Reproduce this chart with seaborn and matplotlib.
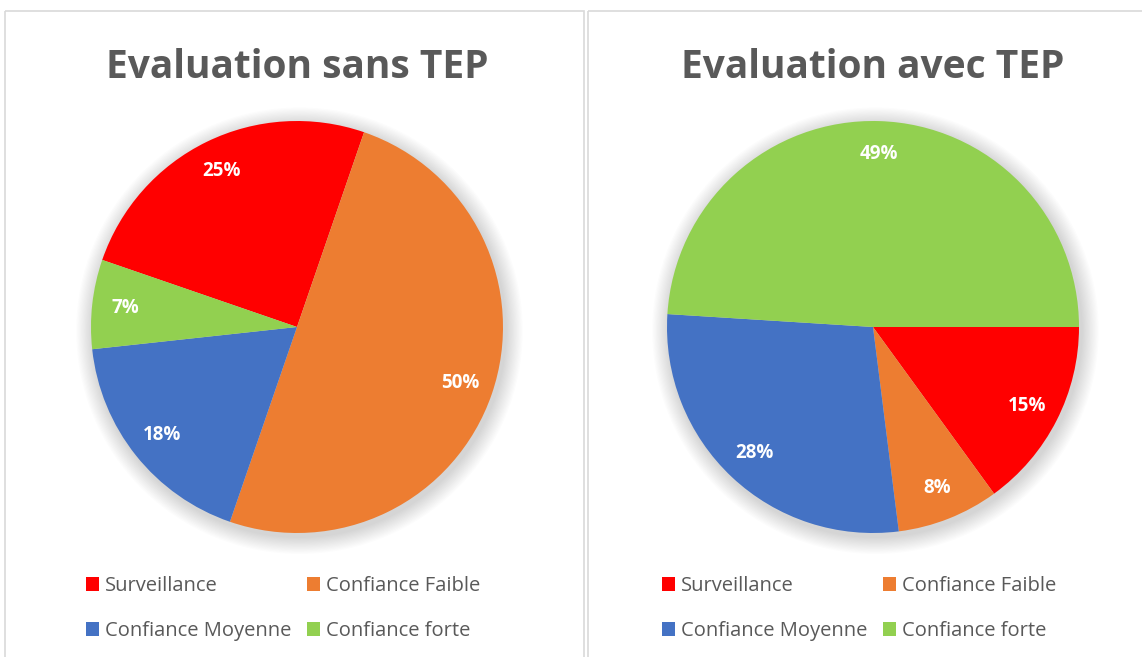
import matplotlib
matplotlib.use("Agg")
import matplotlib.pyplot as plt
from matplotlib.patches import Circle, Rectangle
import seaborn as sns

sns.set_theme(style="white")
plt.rcParams["font.family"] = ["Open Sans", "DejaVu Sans"]

categories = ["Surveillance", "Confiance Faible", "Confiance Moyenne", "Confiance forte"]
sans_tep = [25, 50, 18, 7]
avec_tep = [15, 8, 28, 49]
titles = ["Evaluation sans TEP", "Evaluation avec TEP"]
colors = ["#FF0000", "#ED7D31", "#4472C4", "#92D050"]

W, H = 1142, 657
fig = plt.figure(figsize=(W / 100, H / 100), dpi=100)
fig.patch.set_facecolor("white")

# panel frames (pixel coords)
frame_ax = fig.add_axes([0, 0, 1, 1])
frame_ax.set_xlim(0, W)
frame_ax.set_ylim(H, 0)
frame_ax.axis("off")
for x0, x1 in [(5, 584), (588, 1150)]:
    frame_ax.add_patch(Rectangle((x0, 11), x1 - x0, 700, fill=False,
                                 edgecolor="#d9d9d9", linewidth=1.2))

panels = [
    {"values": sans_tep, "cx": 297, "start": 161},
    {"values": avec_tep, "cx": 873, "start": 0},
]
radius_px = 206
cy = 327

for i, panel in enumerate(panels):
    cx = panel["cx"]
    ax = fig.add_axes([(cx - radius_px) / W, (H - cy - radius_px) / H,
                       2 * radius_px / W, 2 * radius_px / H])
    # soft shadow around the pie
    for k in range(14):
        r = 1.0 + 0.006 * (k + 1)
        ax.add_patch(Circle((0.012, -0.018), r, color="black",
                            alpha=0.012, linewidth=0, clip_on=False, zorder=0))
    wedges, _, autotexts = ax.pie(
        panel["values"], colors=colors, startangle=panel["start"],
        counterclock=False, autopct="%1.0f%%", pctdistance=0.84,
        radius=1.0, wedgeprops={"linewidth": 0},
        textprops={"color": "white", "fontsize": 13.5, "fontweight": "bold"},
    )
    for w in wedges:
        w.set_zorder(2)
    for t in autotexts:
        t.set_zorder(3)
    ax.set_xlim(-1, 1)
    ax.set_ylim(-1, 1)
    ax.set_aspect("equal")
    ax.axis("off")

    fig.text(cx / W, 1 - 67 / H, titles[i], ha="center", va="center",
             fontsize=28, fontweight="bold", color="#595959")

    order = [0, 2, 1, 3]
    fig.legend([wedges[j] for j in order], [categories[j] for j in order],
               ncol=2, loc="upper left",
               bbox_to_anchor=((cx - 221) / W, 1 - 566 / H),
               frameon=False, fontsize=14.5, labelcolor="#595959",
               handlelength=0.65, handleheight=0.65, handletextpad=0.3,
               columnspacing=0.75, labelspacing=1.25, borderpad=0)

fig.savefig("out.png", dpi=100)
